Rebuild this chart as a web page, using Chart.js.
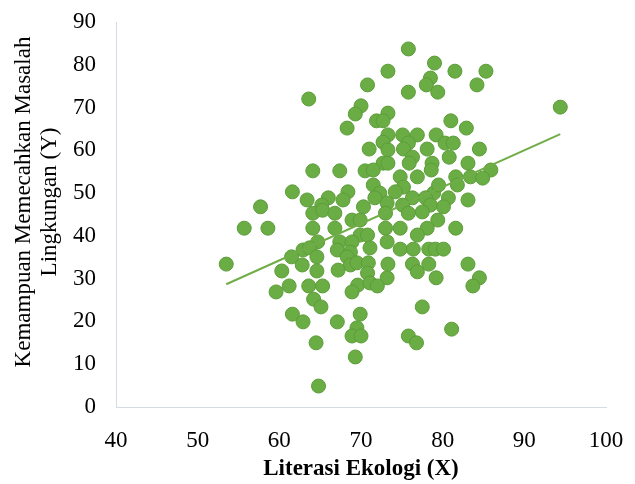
<!DOCTYPE html>
<html>
<head>
<meta charset="utf-8">
<script src="https://cdn.jsdelivr.net/npm/chart.js@4.4.0/dist/chart.umd.min.js"></script>
<style>
  html, body { margin: 0; padding: 0; background: #fff; }
</style>
</head>
<body>
<canvas id="my-chart" width="635" height="484"></canvas>
<script>
// Literasi Ekologi (X) vs Kemampuan Memecahkan Masalah Lingkungan (Y)
const literasiX = [
  75.8, 79.0, 73.3, 81.5, 85.3, 70.8, 78.5, 78.0, 84.2, 63.6,
  79.4, 75.8, 70.0, 94.4, 69.3, 73.3, 71.9, 72.7, 81.0, 68.3,
  82.9, 73.3, 75.1, 76.9, 79.2, 72.7, 75.8, 80.3, 81.3, 71.0,
  73.3, 75.2, 78.1, 84.5, 76.3, 80.8, 72.7, 73.3, 75.9, 78.7,
  83.1, 64.1, 67.4, 70.5, 71.5, 78.6, 85.9, 74.8, 76.9, 81.6,
  83.4, 84.9, 71.5, 72.3, 73.2, 75.2, 74.2, 78.9, 79.5, 81.8,
  61.6, 63.4, 66.0, 68.4, 67.8, 57.7, 65.2, 70.3, 76.3, 77.9,
  80.7, 83.1, 71.7, 75.1, 78.5, 80.1, 64.1, 65.3, 66.8, 68.9,
  69.9, 73.0, 75.8, 77.5, 79.4, 64.1, 66.8, 55.7, 58.6, 69.9,
  70.8, 73.0, 74.8, 78.1, 81.6, 76.9, 64.7, 67.4, 68.9, 73.2,
  62.9, 63.7, 67.1, 68.7, 71.1, 74.8, 76.4, 78.3, 79.1, 80.1,
  61.5, 64.6, 68.3, 53.5, 62.8, 68.7, 69.5, 70.9, 73.3, 76.3,
  78.3, 83.1, 60.3, 64.6, 67.2, 70.8, 76.9, 73.2, 79.2, 84.5,
  59.6, 61.2, 63.6, 65.3, 69.6, 71.1, 72.0, 83.7, 68.9, 64.2,
  65.1, 61.6, 62.9, 67.1, 69.9, 69.5, 68.9, 70.0, 77.5, 81.1,
  75.8, 76.8, 64.5, 69.3, 64.8
];
const kemampuanY = [
  83.7, 80.4, 78.5, 78.5, 78.5, 75.3, 76.9, 75.3, 75.3, 72.0,
  73.6, 73.6, 70.4, 70.1, 68.5, 68.7, 66.9, 66.9, 66.9, 65.2,
  65.2, 63.6, 63.6, 63.6, 63.6, 61.9, 61.7, 61.7, 61.7, 60.3,
  60.1, 60.3, 60.3, 60.3, 58.4, 58.4, 57.0, 57.0, 57.0, 57.0,
  57.0, 55.2, 55.2, 55.2, 55.4, 55.4, 55.4, 53.8, 53.8, 53.8,
  53.8, 53.5, 51.9, 50.0, 47.7, 51.4, 50.3, 50.0, 51.9, 51.9,
  50.3, 48.4, 48.9, 50.3, 48.4, 46.8, 47.2, 46.8, 48.9, 48.9,
  48.9, 48.4, 48.9, 47.2, 47.2, 46.8, 45.3, 46.0, 45.3, 43.7,
  43.7, 45.3, 45.3, 45.6, 43.7, 41.8, 41.8, 41.8, 41.8, 40.2,
  40.2, 41.8, 41.8, 41.8, 41.8, 40.2, 38.6, 38.6, 38.6, 38.6,
  36.7, 37.2, 36.7, 36.2, 37.2, 36.9, 36.9, 36.9, 36.9, 36.9,
  35.1, 35.1, 35.1, 33.4, 33.2, 33.2, 33.7, 33.7, 33.4, 33.4,
  33.4, 33.4, 31.8, 31.8, 32.0, 31.3, 31.6, 30.2, 30.2, 30.2,
  26.9, 28.3, 28.3, 28.3, 28.5, 29.0, 28.3, 28.3, 26.9, 25.2,
  23.4, 21.7, 19.9, 19.9, 21.7, 18.5, 16.6, 16.6, 23.4, 18.2,
  16.6, 15.0, 15.0, 11.7, 4.9
];
// linear trendline end points
const trendX = [53.5, 94.4];
const trendY = [28.7, 63.8];

const xTicks = [40, 50, 60, 70, 80, 90, 100];
const yTicks = [0, 10, 20, 30, 40, 50, 60, 70, 80, 90];

const xTitle = 'Literasi Ekologi (X)';
const yTitle = ['Kemampuan Memecahkan Masalah', 'Lingkungan (Y)'];

const points = literasiX.map((x, i) => ({ x: x, y: kemampuanY[i] }));
const trend = trendX.map((x, i) => ({ x: x, y: trendY[i] }));

const serif = "'Liberation Serif', 'Times New Roman', serif";
const axisColor = '#d5dbe5';

// y title drawn by hand so it can sit where Excel put it
const yTitlePlugin = {
  id: 'yTitle',
  afterDraw(chart) {
    const ctx = chart.ctx;
    ctx.save();
    ctx.translate(24, 202);
    ctx.rotate(-Math.PI / 2);
    ctx.font = '23px ' + serif;
    ctx.fillStyle = '#000';
    ctx.textAlign = 'center';
    ctx.textBaseline = 'middle';
    yTitle.forEach((line, i) => ctx.fillText(line, 0, i * 26));
    ctx.restore();
  }
};

const ctx = document.getElementById('my-chart').getContext('2d');
const myChart = new Chart(ctx, {
  type: 'scatter',
  data: {
    datasets: [{
      label: 'Data',
      data: points,
      backgroundColor: '#6aad44',
      borderColor: '#5c9c39',
      borderWidth: 1,
      pointRadius: 7,
      pointHoverRadius: 7,
      order: 2
    }, {
      label: 'Linear',
      type: 'line',
      data: trend,
      borderColor: '#70ad47',
      borderWidth: 2,
      pointRadius: 0,
      fill: false,
      order: 1
    }]
  },
  options: {
    responsive: false,
    animation: false,
    devicePixelRatio: 1,
    layout: { autoPadding: false, padding: { top: 22, right: 29, bottom: 0, left: 0 } },
    plugins: {
      legend: { display: false },
      tooltip: { enabled: false }
    },
    scales: {
      x: {
        type: 'linear',
        min: 40,
        max: 100,
        afterBuildTicks: (scale) => { scale.ticks = xTicks.map(v => ({ value: v })); },
        afterFit: (scale) => {
          scale.height = 77;
          scale.paddingLeft = 0;
          scale.paddingRight = 0;
        },
        grid: { display: false, drawTicks: false },
        border: { display: true, color: axisColor, width: 1 },
        ticks: { color: '#000', font: { family: serif, size: 23 }, padding: 20, maxRotation: 0 },
        title: {
          display: true,
          text: xTitle,
          color: '#000',
          font: { family: serif, size: 23, weight: 'bold' },
          padding: { top: 0, bottom: 1 }
        }
      },
      y: {
        type: 'linear',
        min: 0,
        max: 90,
        afterBuildTicks: (scale) => { scale.ticks = yTicks.map(v => ({ value: v })); },
        afterFit: (scale) => {
          scale.width = 116;
          scale.paddingTop = 0;
          scale.paddingBottom = 0;
        },
        grid: { display: false, drawTicks: false },
        border: { display: true, color: axisColor, width: 1 },
        ticks: { color: '#000', font: { family: serif, size: 23 }, padding: 20 }
      }
    }
  },
  plugins: [yTitlePlugin]
});
</script>
</body>
</html>
